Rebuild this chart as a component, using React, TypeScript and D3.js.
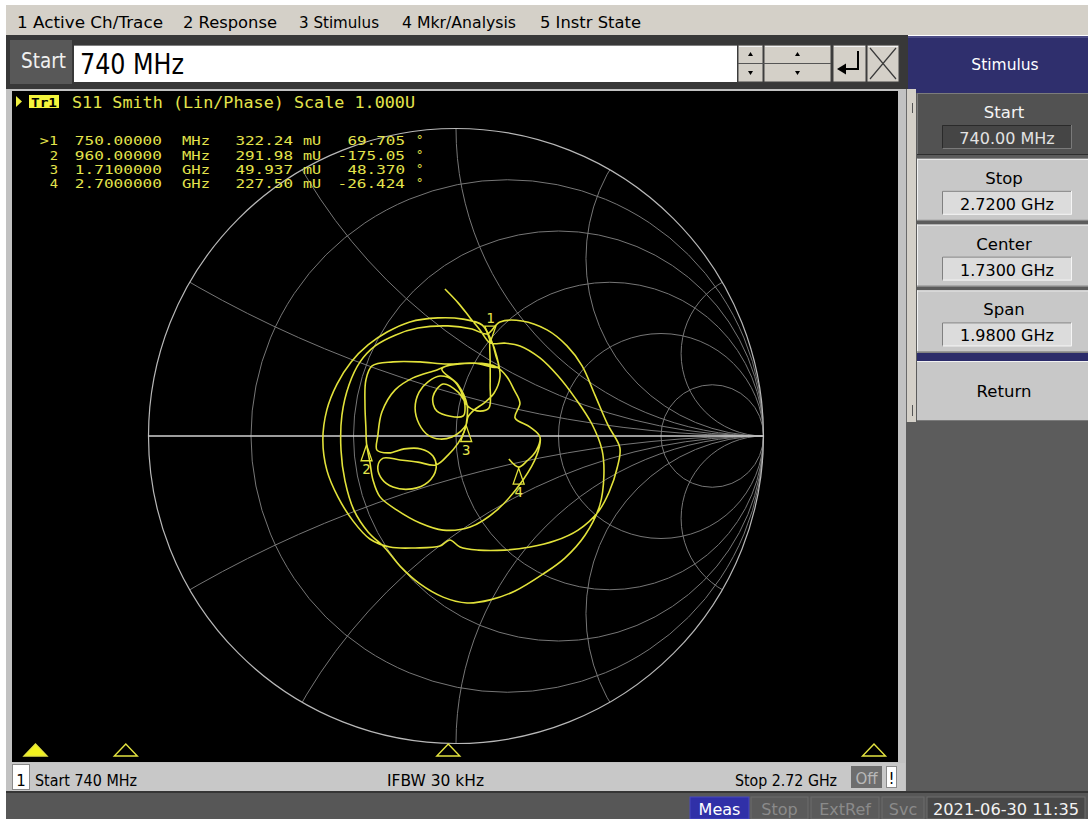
import React from 'react';
import * as d3 from 'd3';

type Pt = [number, number];

const UI = "'DejaVu Sans', 'Liberation Sans', sans-serif";
const MONO = "'DejaVu Sans Mono', 'Liberation Mono', monospace";
const YEL = '#e4e44c';
const TRACE = '#e2e23a';

// ---- text content ----
const menuItems = ['1 Active Ch/Trace', '2 Response', '3 Stimulus', '4 Mkr/Analysis', '5 Instr State'];
const menuLeft = [17, 183, 299, 402, 540];
const menuWidth = [146, 94, 80, 114, 101];

const softLabels = ['Start', 'Stop', 'Center', 'Span'];
const softValues = ['740.00 MHz', '2.7200 GHz', '1.7300 GHz', '1.9800 GHz'];

const statusBoxes = ['Meas', 'Stop', 'ExtRef', 'Svc'];

// ---- stimulus ----
const stimStartMHz = 740;
const stimStopMHz = 2720;

// ---- markers ----
const markerIds = ['>1', '2', '3', '4'];
const markerStim = ['750.00000', '960.00000', '1.7100000', '2.7000000'];
const markerUnits = ['MHz', 'MHz', 'GHz', 'GHz'];
const markerMagText = ['322.24', '291.98', '49.937', '227.50'];
const markerPhaseText = ['69.705', '-175.05', '48.370', '-26.424'];
const markerFreqMHz = [750, 960, 1710, 2700];
const markerMagMU = [322.24, 291.98, 49.937, 227.5];
const markerPhaseDeg = [69.705, -175.05, 48.37, -26.424];

// ---- Smith graticule ----
const resistanceValues = [0.2, 0.5, 1, 2, 5];
const reactanceValues = [0.268, 0.577, 1, 1.732, 3.732];

// ---- S11 trace, reflection coefficient (re, im) ----
const traceStart: Pt[] = [[-0.036, 0.478], [0.007, 0.433], [0.046, 0.384], [0.078, 0.345]];
const traceBottomLoop: Pt[] = [
  [0.159, 0.302], [0.208, 0.293], [0.273, 0.254], [0.332, 0.195], [0.387, 0.124], [0.442, 0.039],
  [0.475, -0.046], [0.481, -0.127], [0.468, -0.224], [0.42, -0.322], [0.354, -0.397], [0.283, -0.449],
  [0.192, -0.504], [0.111, -0.533], [0.036, -0.543], [-0.042, -0.524], [-0.117, -0.481], [-0.182, -0.423],
  [-0.231, -0.364], [-0.286, -0.312], [-0.332, -0.241], [-0.361, -0.146], [-0.374, -0.046], [-0.371, 0.068],
  [-0.348, 0.166], [-0.312, 0.241], [-0.263, 0.293], [-0.198, 0.328], [-0.124, 0.351], [-0.026, 0.358],
  [0.052, 0.348], [0.101, 0.332],
];
const traceBumpLoop: Pt[] = [
  [0.143, 0.371], [0.215, 0.374], [0.296, 0.345], [0.361, 0.293], [0.41, 0.228], [0.452, 0.133],
  [0.494, 0.036], [0.533, -0.039], [0.524, -0.104], [0.498, -0.182], [0.462, -0.247], [0.397, -0.306],
  [0.322, -0.341], [0.241, -0.361], [0.159, -0.371], [0.072, -0.371], [0.013, -0.361], [-0.02, -0.338],
  [-0.052, -0.358], [-0.133, -0.364], [-0.215, -0.361], [-0.28, -0.335], [-0.335, -0.276], [-0.384, -0.198],
  [-0.42, -0.111], [-0.433, -0.013], [-0.42, 0.085], [-0.387, 0.169], [-0.341, 0.241], [-0.286, 0.296],
  [-0.224, 0.338], [-0.15, 0.371], [-0.059, 0.384], [0.023, 0.38], [0.085, 0.361],
];
const traceLobe: Pt[] = [[0.111, 0.319], [0.133, 0.257], [0.143, 0.192], [0.124, 0.14], [0.091, 0.107], [0.059, 0.085], [0.039, 0.062]];
const traceSmallCircle: Pt[] = [
  [0.016, 0.016], [-0.013, -0.003], [-0.052, -0.01], [-0.091, 0.003], [-0.12, 0.039], [-0.133, 0.091],
  [-0.12, 0.143], [-0.091, 0.176], [-0.052, 0.195], [-0.01, 0.182], [0.016, 0.146], [0.029, 0.101], [0.023, 0.065],
];
const tracePentagon: Pt[] = [[-0.062, 0.081], [-0.075, 0.127], [-0.042, 0.169], [0.007, 0.143], [0.042, 0.094]];
const traceVertical: Pt[] = [[0.078, 0.081], [0.107, 0.091], [0.111, 0.166], [0.111, 0.241], [0.111, 0.319], [0.13, 0.26], [0.137, 0.224]];
const traceMidTop: Pt[] = [[0.062, 0.237], [-0.029, 0.234], [-0.117, 0.241], [-0.205, 0.241], [-0.273, 0.228], [-0.293, 0.182], [-0.296, 0.101], [-0.293, 0.026]];
const traceMidBottom: Pt[] = [
  [-0.28, -0.085], [-0.27, -0.143], [-0.247, -0.198], [-0.192, -0.241], [-0.117, -0.283], [-0.042, -0.306],
  [0.046, -0.296], [0.133, -0.241], [0.218, -0.143], [0.263, -0.062], [0.273, -0.003],
];
const traceNotchUp: Pt[] = [[0.241, 0.029], [0.192, 0.059], [0.208, 0.107], [0.189, 0.15], [0.166, 0.192], [0.133, 0.224], [0.062, 0.237], [-0.02, 0.231], [-0.062, 0.215]];
const traceCurveE: Pt[] = [[-0.14, 0.189], [-0.198, 0.15], [-0.241, 0.078], [-0.254, 0.003], [-0.257, -0.046]];
const traceLowerLoop: Pt[] = [
  [-0.218, -0.055], [-0.169, -0.042], [-0.114, -0.042], [-0.075, -0.065], [-0.065, -0.107], [-0.091, -0.15],
  [-0.143, -0.172], [-0.205, -0.166], [-0.241, -0.14], [-0.254, -0.098], [-0.237, -0.072], [-0.182, -0.078],
  [-0.124, -0.085], [-0.065, -0.094], [-0.026, -0.062], [0.007, -0.023], [0.026, 0.013],
];
const traceArc3: Pt[] = [
  [0.036, 0.101], [0.007, 0.166], [-0.046, 0.218], [0.062, 0.237], [0.133, 0.224], [0.166, 0.192],
  [0.189, 0.15], [0.208, 0.107], [0.192, 0.059], [0.241, 0.029], [0.273, -0.003], [0.26, -0.049], [0.231, -0.081],
];
const traceEnd: Pt[] = [[0.172, -0.075]];

const CX = 456;
const CY = 436;
const RAD = 307.5;
const CELL = 9.85;

function Cell({ s, x, y, end }: { s: string; x: number; y: number; end?: boolean }) {
  return (
    <text x={x} y={y} textAnchor={end ? 'end' : 'start'} textLength={s.length * CELL - 1.5} lengthAdjust="spacingAndGlyphs">
      {s}
    </text>
  );
}

export default function App() {
  const xS = d3.scaleLinear().domain([-1, 1]).range([CX - RAD, CX + RAD]);
  const yS = d3.scaleLinear().domain([-1, 1]).range([CY + RAD, CY - RAD]);
  const fS = d3.scaleLinear().domain([stimStartMHz, stimStopMHz]).range([31.2, 882.6]);
  const unitPx = xS(1) - xS(0);

  const mk: Pt[] = markerMagMU.map((m, i) => {
    const a = (markerPhaseDeg[i] * Math.PI) / 180;
    return [(m / 1000) * Math.cos(a), (m / 1000) * Math.sin(a)] as Pt;
  });

  const trace: Pt[] = [
    ...traceStart, mk[0], ...traceBottomLoop, ...traceBumpLoop, ...traceLobe, mk[2],
    ...traceSmallCircle, ...tracePentagon, ...traceVertical, ...traceMidTop, mk[1],
    ...traceMidBottom, ...traceNotchUp, ...traceCurveE, ...traceLowerLoop, mk[2],
    ...traceArc3, mk[3], ...traceEnd,
  ];
  const line = d3.line<Pt>().x((d) => xS(d[0])).y((d) => yS(d[1])).curve(d3.curveCatmullRom.alpha(0.5));

  const xArcs = reactanceValues.flatMap((x) => [x, -x]);

  return (
    <div style={{ position: 'absolute', left: 0, top: 0, width: 1088, height: 819 }}>
      <svg width={1088} height={819} style={{ display: 'block' }} fontFamily={UI}>
        <defs>
          <clipPath id="unit">
            <circle cx={xS(0)} cy={yS(0)} r={unitPx} />
          </clipPath>
        </defs>
        <rect width={1088} height={819} fill="#ffffff" />

        {/* menu bar */}
        <rect x={6} y={5} width={1082} height={30} fill="#d4d0c8" />
        {menuItems.map((m, i) => (
          <text key={m} x={menuLeft[i]} y={27.5} fontSize={15.5} fill="#000" textLength={menuWidth[i]} lengthAdjust="spacingAndGlyphs">{m}</text>
        ))}

        {/* entry bar */}
        <rect x={6} y={35} width={902} height={54} fill="#383838" />
        <rect x={10} y={40} width={62} height={44} fill="#585858" />
        <text x={21} y={68} fontSize={22} fill="#f0f0f0" textLength={45} lengthAdjust="spacingAndGlyphs">Start</text>
        <rect x={74} y={45} width={663} height={37} fill="#ffffff" />
        <line x1={74} y1={45.5} x2={737} y2={45.5} stroke="#808080" />
        <text x={80} y={73.5} fontSize={28} fill="#000" textLength={104} lengthAdjust="spacingAndGlyphs">740 MHz</text>
        {[[738, 25], [764, 67], [833, 33], [867, 32]].map(([bx, bw], i) => (
          <g key={i}>
            <rect x={bx} y={45} width={bw} height={37} fill="#d4d0c8" stroke="#404040" strokeWidth={1} />
            <line x1={bx + 1} y1={46.5} x2={bx + bw - 1} y2={46.5} stroke="#f4f4f4" />
          </g>
        ))}
        <line x1={738} y1={63.5} x2={831} y2={63.5} stroke="#555" />
        {[750.5, 797.5].map((ax) => (
          <g key={ax} fill="#000">
            <polygon points={`${ax},52 ${ax - 2.5},56 ${ax + 2.5},56`} />
            <polygon points={`${ax},75 ${ax - 2.5},71 ${ax + 2.5},71`} />
          </g>
        ))}
        <path d="M858,51 V69 H843" fill="none" stroke="#000" strokeWidth={2} />
        <polygon points="837,69 846,63.5 846,74.5" fill="#000" />
        <path d="M870,48 L896,79 M896,48 L870,79" stroke="#3a3a3a" strokeWidth={1.2} />

        {/* stimulus header */}
        <rect x={908} y={36} width={180} height={53} fill="#2f2f6d" />
        <line x1={908} y1={37} x2={1088} y2={37} stroke="#6a6aa0" />
        <text x={1005} y={70} textAnchor="middle" fontSize={15.5} fill="#ffffff">Stimulus</text>

        {/* softkey panel */}
        <rect x={899} y={89} width={189} height={704} fill="#5c5c5c" />
        <rect x={899} y={89} width={17} height={333} fill="#d4d0c8" />
        <line x1={906.5} y1={89} x2={906.5} y2={422} stroke="#6a6a6a" />
        <line x1={912.5} y1={103} x2={912.5} y2={113} stroke="#555" />
        <line x1={912.5} y1={405} x2={912.5} y2={416} stroke="#555" />
        <rect x={916} y={89} width={172} height={4} fill="#2f2f6d" />
        {softLabels.map((lab, i) => {
          const top = 93 + i * 65.8;
          const act = i === 0;
          return (
            <g key={lab}>
              <rect x={917} y={top} width={171} height={62} fill={act ? '#525252' : '#c8c8c8'} />
              <line x1={917} y1={top + 0.5} x2={1088} y2={top + 0.5} stroke={act ? '#7c7c7c' : '#f2f2f2'} />
              <line x1={917.5} y1={top} x2={917.5} y2={top + 62} stroke={act ? '#7c7c7c' : '#f2f2f2'} />
              <line x1={917} y1={top + 61.5} x2={1088} y2={top + 61.5} stroke={act ? '#2e2e2e' : '#7a7a7a'} />
              <text x={1004} y={top + 25} textAnchor="middle" fontSize={16.5} fill={act ? '#f4f4f4' : '#000'}>{lab}</text>
              <rect x={942} y={top + 32} width={130} height={24} fill={act ? '#454545' : '#dcdcdc'} />
              <path d={`M942.5,${top + 56} V${top + 32.5} H1072`} fill="none" stroke={act ? '#2a2a2a' : '#808080'} />
              <path d={`M942.5,${top + 55.5} H1071.5 V${top + 32}`} fill="none" stroke={act ? '#7a7a7a' : '#f4f4f4'} />
              <text x={1007} y={top + 51} textAnchor="middle" fontSize={16} fill={act ? '#e2e2e2' : '#000'}>{softValues[i]}</text>
            </g>
          );
        })}
        <rect x={917} y={353} width={171} height={8} fill="#2c2c6a" />
        <rect x={917} y={361} width={171} height={60} fill="#c8c8c8" />
        <line x1={917} y1={361.5} x2={1088} y2={361.5} stroke="#f2f2f2" />
        <line x1={917} y1={420.5} x2={1088} y2={420.5} stroke="#7a7a7a" />
        <text x={1004} y={397} textAnchor="middle" fontSize={16.5} fill="#000">Return</text>

        {/* chart window */}
        <rect x={6} y={89} width={900} height={703} fill="#c2c2c2" />
        <rect x={12} y={91} width={886} height={671} fill="#000000" />

        {/* Smith graticule */}
        <g clipPath="url(#unit)" fill="none" stroke="#767676" strokeWidth={1}>
          {resistanceValues.map((r) => (
            <circle key={`r${r}`} cx={xS(r / (1 + r))} cy={yS(0)} r={unitPx / (1 + r)} />
          ))}
          {xArcs.map((x) => (
            <circle key={`x${x}`} cx={xS(1)} cy={yS(1 / x)} r={unitPx / Math.abs(x)} />
          ))}
        </g>
        <circle cx={xS(0)} cy={yS(0)} r={unitPx} fill="none" stroke="#b8b8b8" strokeWidth={1.2} />
        <line x1={xS(-1)} y1={yS(0)} x2={xS(1)} y2={yS(0)} stroke="#d0d0d0" strokeWidth={1.6} />

        {/* trace */}
        <path d={line(trace) || ''} fill="none" stroke={TRACE} strokeWidth={1.6} strokeLinejoin="round" />

        {/* markers on the trace */}
        {mk.map((p, i) => {
          const px = xS(p[0]);
          const py = yS(p[1]);
          const label = String(i + 1);
          if (i === 0) {
            return (
              <g key={label} stroke={TRACE} fill="none" strokeWidth={1.3}>
                <polygon points={`${px - 5.5},${py - 17} ${px + 5.5},${py - 17} ${px},${py - 1}`} />
                <text x={px} y={py - 20} textAnchor="middle" fontFamily={MONO} fontSize={14} fill={YEL} stroke="none">{label}</text>
              </g>
            );
          }
          return (
            <g key={label} stroke={TRACE} fill="none" strokeWidth={1.3}>
              <polygon points={`${px},${py + 1} ${px - 5.5},${py + 17} ${px + 5.5},${py + 17}`} />
              <text x={px} y={py + 30} textAnchor="middle" fontFamily={MONO} fontSize={14} fill={YEL} stroke="none">{label}</text>
            </g>
          );
        })}

        {/* trace header */}
        <polygon points="16,96 22,101.5 16,107" fill="#f0f040" />
        <rect x={29} y={95} width={30} height={13} fill="#f4f43c" />
        <text x={31} y={106.5} fontFamily={MONO} fontSize={13} fontWeight="bold" fill="#000" textLength={26} lengthAdjust="spacingAndGlyphs">Tr1</text>
        <text x={72} y={108} fontFamily={MONO} fontSize={15.5} fill={YEL} textLength={343} lengthAdjust="spacingAndGlyphs">S11 Smith (Lin/Phase) Scale 1.000U</text>

        {/* marker table */}
        {markerIds.map((id, i) => {
          const y = 145.3 + i * 14.25;
          return (
            <g key={id} fontFamily={MONO} fontSize={12.2} fill={YEL}>
              <Cell s={id} x={58} y={y} end />
              <Cell s={markerStim[i]} x={162} y={y} end />
              <Cell s={markerUnits[i]} x={182} y={y} />
              <Cell s={markerMagText[i]} x={293} y={y} end />
              <Cell s="mU" x={303} y={y} />
              <Cell s={markerPhaseText[i]} x={405} y={y} end />
              <text x={416} y={y - 1}>°</text>
            </g>
          );
        })}

        {/* stimulus position markers */}
        {markerFreqMHz.map((f, i) => {
          const x = fS(f);
          return (
            <polygon key={f} points={`${x},744 ${x - 11.5},756 ${x + 11.5},756`} fill={i === 0 ? '#f2f21e' : 'none'} stroke="#e4e440" strokeWidth={1.4} />
          );
        })}

        {/* channel status bar */}
        <rect x={12} y={763} width={893} height={28} fill="#c8c8c8" />
        <rect x={12.5} y={764.5} width={17} height={25} fill="#ffffff" stroke="#8a8a8a" />
        <text x={21} y={785.5} textAnchor="middle" fontSize={15} fill="#000">1</text>
        <text x={35} y={785.5} fontSize={15} fill="#000" textLength={102} lengthAdjust="spacingAndGlyphs">Start 740 MHz</text>
        <text x={387} y={785.5} fontSize={15} fill="#000" textLength={97} lengthAdjust="spacingAndGlyphs">IFBW 30 kHz</text>
        <text x={735} y={785.5} fontSize={15} fill="#000" textLength={102} lengthAdjust="spacingAndGlyphs">Stop 2.72 GHz</text>
        <rect x={851} y={766} width={31} height={22} fill="#6e6e6e" />
        <text x={866.5} y={783.5} textAnchor="middle" fontSize={15} fill="#b8b8b8">Off</text>
        <rect x={886.5} y={766.5} width={10} height={21} fill="#ffffff" stroke="#8a8a8a" />
        <text x={891.5} y={783.5} textAnchor="middle" fontSize={15} fill="#000">!</text>

        {/* instrument status bar */}
        <rect x={6} y={791} width={1082} height={28} fill="#575757" />
        <line x1={6} y1={792} x2={1088} y2={792} stroke="#353535" strokeWidth={2} />
        {statusBoxes.map((s, i) => {
          const bx = [690, 751, 811, 882][i];
          const bw = [59, 57, 68, 42][i];
          const act = i === 0;
          return (
            <g key={s}>
              <rect x={bx} y={797} width={bw} height={22} fill={act ? '#3030a8' : '#5a5a5a'} stroke={act ? '#4848c0' : '#6c6c6c'} />
              <text x={bx + bw / 2} y={815} textAnchor="middle" fontSize={16} fill={act ? '#ffffff' : '#8a8a8a'}>{s}</text>
            </g>
          );
        })}
        <rect x={927} y={797} width={158} height={22} fill="#484848" stroke="#6c6c6c" />
        <text x={1006} y={815} textAnchor="middle" fontSize={16} fill="#f2f2f2" textLength={146} lengthAdjust="spacingAndGlyphs">2021-06-30 11:35</text>
      </svg>
    </div>
  );
}
